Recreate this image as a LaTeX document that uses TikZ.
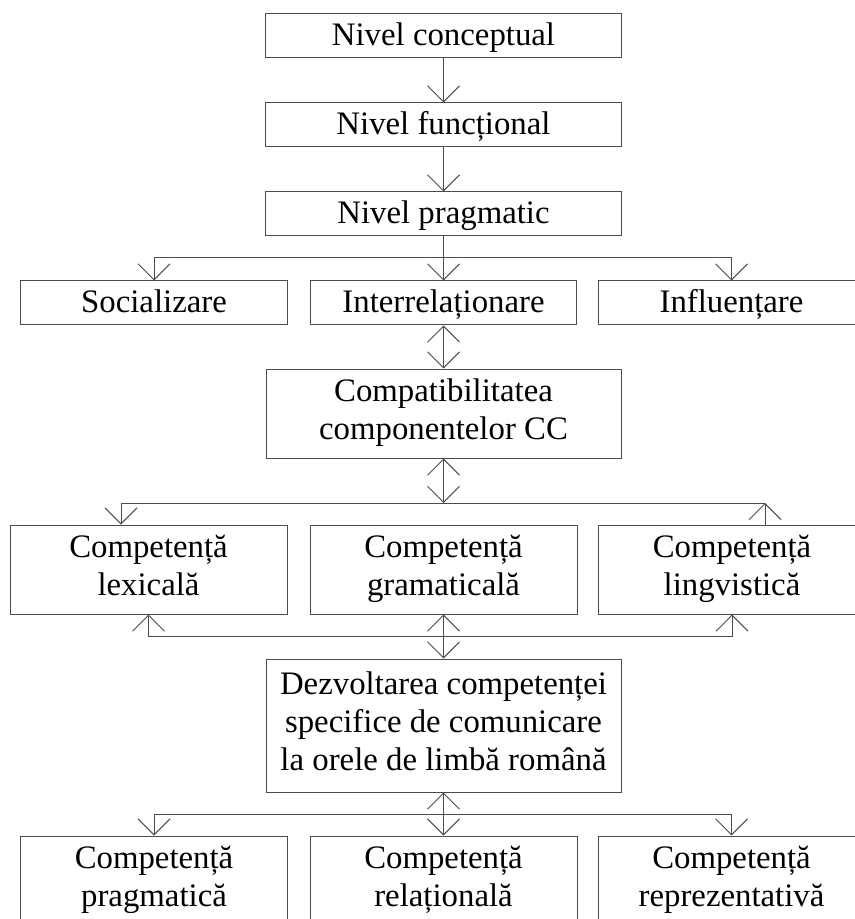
\documentclass[tikz,border=0pt]{standalone}
\usepackage{fontspec}
\setmainfont{Liberation Serif}
\usetikzlibrary{arrows.meta}
\usetikzlibrary{calc}
\newcommand\boxstrut{\rule[-6.5pt]{0pt}{28pt}}

\begin{document}
\begin{tikzpicture}[x=0.75pt,y=0.75pt,yscale=-1,xscale=1,
  box/.style={draw=black!70,line width=0.75pt,inner sep=0pt,align=center,
    font=\fontsize{24.6pt}{28.2pt}\selectfont,
    execute at begin node=\boxstrut,execute at end node=\boxstrut},
  lvl/.style={box,minimum width=267pt,minimum height=33pt},
  sm/.style={box,minimum width=200pt,minimum height=33pt},
  wide/.style={box,minimum width=266.25pt},
  comp/.style={box,minimum width=200.25pt,minimum height=66.75pt},
  conn/.style={draw=black!70,line width=0.75pt},
  arr/.style={conn,-{Straight Barb[length=12pt,width=24pt]}},
  darr/.style={conn,{Straight Barb[length=12pt,width=24pt]}-{Straight Barb[length=12pt,width=24pt]}}]
\useasboundingbox (0,0) rectangle (854,919); %picture is cut at the bottom and right

%Shape: Rectangle
\node[lvl] (conc) at (443.5,36) {Nivel conceptual};
\node[lvl] (func) at (443.5,125) {Nivel funcțional};
\node[lvl] (prag) at (443.5,214) {Nivel pragmatic};
%Shape: Rectangle
\node[sm] (soc) at (154,303) {Socializare};
\node[sm] (inter) at (443.5,303) {Interrelaționare};
\node[sm] (infl) at (731.5,303) {Influențare};
%Shape: Rectangle
\node[wide,minimum height=66.75pt] (compat) at (443.5,413.5) {Compatibilitatea\\componentelor CC};
%Shape: Rectangle
\node[comp,minimum width=207.75pt] (lex) at (148.5,569.5) {Competență\\lexicală};
\node[comp] (gram) at (443.5,569.5) {Competență\\gramaticală};
\node[comp] (ling) at (732,569.5) {Competență\\lingvistică};
%Shape: Rectangle
\node[wide,minimum height=99.75pt] (dezv) at (443.5,725.5) {Dezvoltarea competenței\\specifice de comunicare\\la orele de limbă română};
%Shape: Rectangle
\node[comp] (pragm) at (154,880.5) {Competență\\pragmatică};
\node[comp] (rel) at (443.5,880.5) {Competență\\relațională};
\node[comp] (repr) at (731.5,880.5) {Competență\\reprezentativă};

\coordinate (b1) at (443.5,258);
\coordinate (b2) at (443.5,503);
\coordinate (b2l) at (121,503);
\coordinate (b2r) at (765,503);
\coordinate (b3) at (443.5,636);
\coordinate (b4) at (443.5,814);

%Straight Lines
\draw[arr] (conc) -- (func);
\draw[arr] (func) -- (prag);
\draw[arr] (prag) -- (inter);
\draw[arr] (b1) -| (soc);
\draw[arr] (b1) -| (infl);
%Straight Lines
\draw[darr] (inter) -- (compat);
\draw[darr] (compat) -- (b2);
\draw[conn] (b2l) -- (b2r);
\draw[arr] (b2l) -- (b2l |- lex.north);
\draw[arr] (b2r |- ling.north) -- (b2r);
%Straight Lines
\draw[darr] (gram) -- (dezv);
\draw[arr] (b3) -| (lex);
\draw[arr] (b3) -| (ling);
%Straight Lines
\draw[darr] (dezv) -- (rel);
\draw[arr] (b4) -| (pragm);
\draw[arr] (b4) -| (repr);

\end{tikzpicture}
\end{document}
